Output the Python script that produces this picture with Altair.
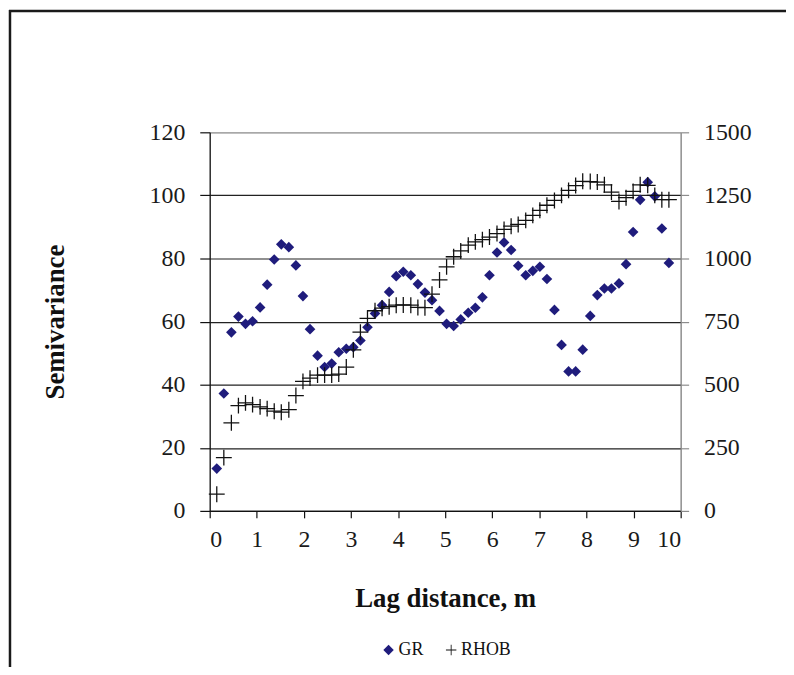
import altair as alt
import pandas as pd

# Lag distances (m)
lags = [0.15, 0.30, 0.46, 0.61, 0.76, 0.91, 1.07, 1.22, 1.37, 1.52, 1.68, 1.83, 1.98, 2.13, 2.29, 2.44,
        2.59, 2.74, 2.90, 3.05, 3.20, 3.35, 3.51, 3.66, 3.81, 3.96, 4.11, 4.27, 4.42, 4.57, 4.72, 4.88,
        5.03, 5.18, 5.33, 5.49, 5.64, 5.79, 5.94, 6.10, 6.25, 6.40, 6.55, 6.71, 6.86, 7.01, 7.16, 7.32,
        7.47, 7.62, 7.77, 7.92, 8.08, 8.23, 8.38, 8.53, 8.69, 8.84, 8.99, 9.14, 9.30, 9.45, 9.60, 9.75]

# GR semivariance (left axis)
gr = [13.4, 37.2, 56.6, 61.6, 59.3, 60.1, 64.5, 71.7, 79.7, 84.5, 83.6, 77.8, 68.1, 57.6, 49.2, 45.6,
      46.7, 50.3, 51.4, 51.9, 54.0, 58.2, 62.6, 65.2, 69.4, 74.4, 75.8, 74.7, 71.9, 69.2, 66.8, 63.4,
      59.3, 58.6, 60.7, 62.8, 64.4, 67.7, 74.7, 81.9, 85.1, 82.7, 77.7, 74.7, 76.1, 77.4, 73.5, 63.7,
      52.6, 44.2, 44.2, 51.1, 61.8, 68.4, 70.5, 70.5, 72.1, 78.2, 88.4, 98.6, 104.2, 99.7, 89.5, 78.6]

# RHOB semivariance (right axis)
rhob = [66, 211, 349, 417, 428, 421, 412, 405, 395, 391, 401, 457, 513, 526, 538, 538,
        538, 542, 570, 638, 708, 763, 793, 803, 809, 815, 816, 815, 806, 805, 859, 915,
        967, 1007, 1030, 1053, 1066, 1075, 1085, 1099, 1115, 1128, 1135, 1151, 1171, 1191, 1211, 1230,
        1250, 1270, 1289, 1306, 1305, 1303, 1292, 1263, 1226, 1241, 1266, 1292, 1290, 1250, 1233, 1233]

series = ["GR", "RHOB"]
series_colors = ["#1f1c7c", "#111111"]
x_ticks = [0, 1, 2, 3, 4, 5, 6, 7, 8, 9, 10]
left_ticks = [0, 20, 40, 60, 80, 100, 120]
right_ticks = [0, 250, 500, 750, 1000, 1250, 1500]

FONT = "Liberation Serif"
PLUS = "M-1,-0.08L1,-0.08L1,0.08L-1,0.08ZM-0.08,-1L0.08,-1L0.08,1L-0.08,1Z"

df_gr = pd.DataFrame({"lag": lags, "value": gr, "series": "GR"})
df_rh = pd.DataFrame({"lag": lags, "value": rhob, "series": "RHOB"})

color_scale = alt.Scale(domain=series, range=series_colors)
shape_scale = alt.Scale(domain=series, range=["diamond", PLUS])
legend = alt.Legend(title=None, orient="none", legendX=171, legendY=512, direction="horizontal",
                    labelFont=FONT, labelFontSize=18, labelColor="#111", labelOffset=1,
                    columnPadding=18, symbolSize=110, symbolStrokeWidth=0, padding=0)

x_enc = alt.X("lag:Q", scale=alt.Scale(domain=[0, 10], nice=False),
              axis=alt.Axis(values=x_ticks, title="Lag distance, m", grid=False, tickSize=7,
                            tickColor="#111", domainColor="#111", labelPadding=10, titlePadding=34))

gr_layer = alt.Chart(df_gr).mark_point(filled=True, size=115, opacity=1, strokeWidth=0).encode(
    x=x_enc,
    y=alt.Y("value:Q", scale=alt.Scale(domain=[0, 120], nice=False),
            axis=alt.Axis(values=left_ticks, title="Semivariance", orient="left", tickSize=10,
                          tickColor="#111", domainColor="#111", labelPadding=15, titlePadding=80,
                          grid=True,
                          gridColor={"condition": {"test": "datum.value === 120", "value": "#a0a0a0"},
                                     "value": "#222222"},
                          gridWidth=1.2)),
    color=alt.Color("series:N", scale=color_scale, legend=legend),
    shape=alt.Shape("series:N", scale=shape_scale, legend=legend),
)

rh_layer = alt.Chart(df_rh).mark_point(filled=True, size=256, opacity=1, strokeWidth=0).encode(
    x=x_enc,
    y=alt.Y("value:Q", scale=alt.Scale(domain=[0, 1500], nice=False),
            axis=alt.Axis(values=right_ticks, format="d", title=None, orient="right", tickSize=8,
                          tickColor="#8c8c8c", domainColor="#8c8c8c", labelPadding=15, grid=False)),
    color=alt.Color("series:N", scale=color_scale, legend=legend),
    shape=alt.Shape("series:N", scale=shape_scale, legend=legend),
)

frame_src = pd.DataFrame({"f": [0]})
frame_top = alt.Chart(frame_src).mark_rule(stroke="#1a1a1a", strokeWidth=2.5).encode(
    x=alt.value(-202), x2=alt.value(700), y=alt.value(-122))
frame_left = alt.Chart(frame_src).mark_rule(stroke="#1a1a1a", strokeWidth=2.5).encode(
    x=alt.value(-201), y=alt.value(-123), y2=alt.value(700))

chart = alt.layer(frame_top, frame_left, gr_layer, rh_layer).resolve_scale(y="independent").properties(
    width=474, height=381,
    autosize=alt.AutoSizeParams(type="none"),
    padding={"left": 203, "top": 123, "right": 106, "bottom": 155},
    background="white",
).configure_view(stroke="#a0a0a0", strokeWidth=1).configure_axis(
    labelFont=FONT, labelFontSize=24, labelColor="#1a1a1a",
    titleFont=FONT, titleFontSize=27, titleFontWeight="bold", titleColor="#111",
    domainWidth=1.2, tickWidth=1.2,
).configure_legend(
    labelFont=FONT, labelFontSize=18, labelColor="#111", symbolSize=110,
)

chart.save("out.html", embed_options={"renderer": "svg", "actions": False})
